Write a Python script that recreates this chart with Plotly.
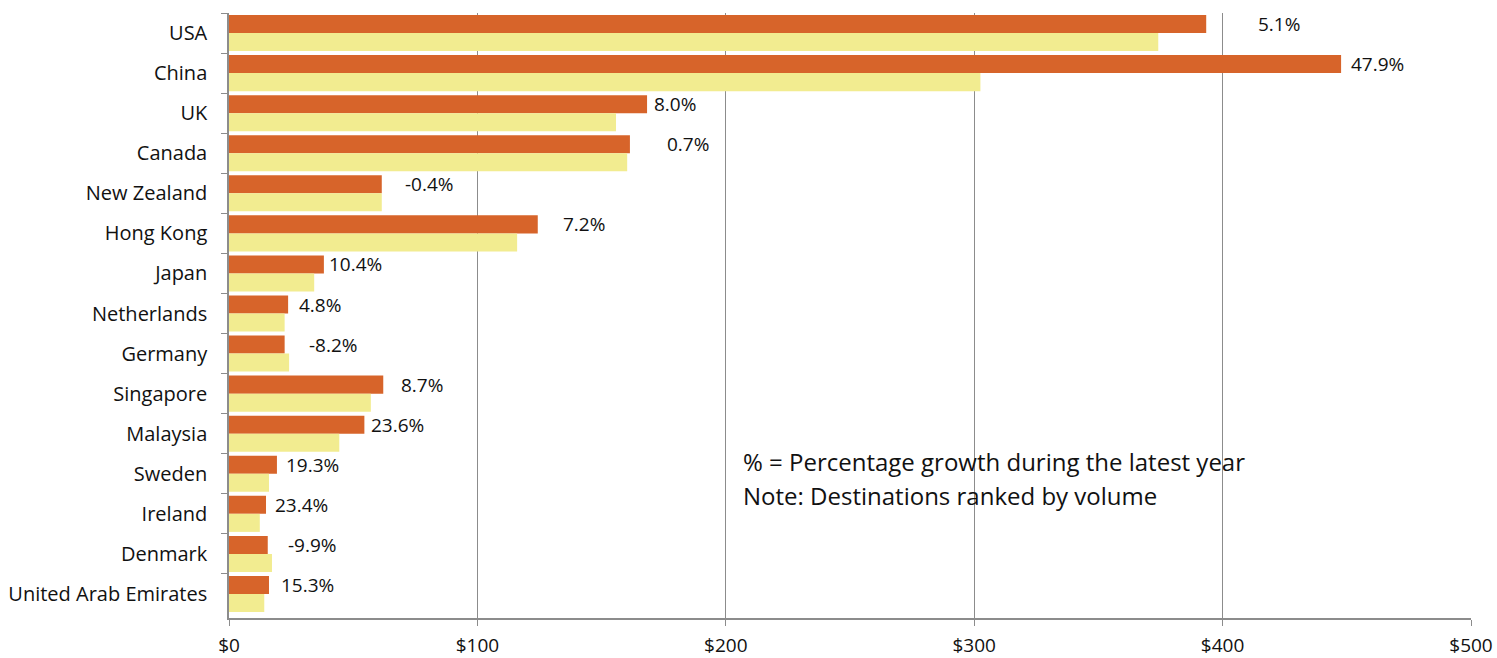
import plotly.graph_objects as go

# Destinations ranked by volume (top to bottom)
countries = [
    "USA", "China", "UK", "Canada", "New Zealand", "Hong Kong", "Japan",
    "Netherlands", "Germany", "Singapore", "Malaysia", "Sweden", "Ireland",
    "Denmark", "United Arab Emirates",
]
# Latest year value ($)
latest_year = [393.4, 447.7, 168.3, 161.4, 61.5, 124.3, 38.2, 23.8, 22.4,
               62.1, 54.5, 19.3, 14.9, 15.6, 16.1]
# Previous year value ($)
previous_year = [374.1, 302.5, 155.8, 160.3, 61.5, 116.0, 34.3, 22.4, 24.2,
                 57.1, 44.4, 16.1, 12.4, 17.3, 14.2]
# Growth during the latest year
growth_labels = ["5.1%", "47.9%", "8.0%", "0.7%", "-0.4%", "7.2%", "10.4%",
                 "4.8%", "-8.2%", "8.7%", "23.6%", "19.3%", "23.4%", "-9.9%",
                 "15.3%"]

x_ticks = [0, 100, 200, 300, 400, 500]
x_tick_text = ["$0", "$100", "$200", "$300", "$400", "$500"]

# pixel nudges for the growth labels (to the right of the latest-year bar)
label_nudge = [50, 8, 5, 35, 21, 23, 3, 9, 22, 16, 5, 7, 7, 18, 10]

FONT = "Open Sans"
ORANGE = "#D7642A"
YELLOW = "#F2EC90"
GRID = "#8C8C8C"
INK = "#111111"

fig = go.Figure()
fig.add_trace(go.Bar(
    y=countries, x=latest_year, orientation="h", name="Latest year",
    marker=dict(color=ORANGE, line=dict(width=0)),
    offsetgroup="a",
))
fig.add_trace(go.Bar(
    y=countries, x=previous_year, orientation="h", name="Previous year",
    marker=dict(color=YELLOW, line=dict(width=0)),
    offsetgroup="b",
))

for c, v, t, dx in zip(countries, latest_year, growth_labels, label_nudge):
    fig.add_annotation(
        x=v, y=c, text=t, showarrow=False, xanchor="left", yanchor="middle",
        xshift=dx, yshift=9, font=dict(family=FONT, size=19, color=INK),
    )

note_x = (741 - 229) / (1471 - 229)
fig.add_annotation(
    xref="paper", yref="paper", x=note_x, y=1 - (461 - 13) / 605,
    text="% = Percentage growth during the latest year", showarrow=False,
    xanchor="left", yanchor="middle", font=dict(family=FONT, size=24, color=INK),
)
fig.add_annotation(
    xref="paper", yref="paper", x=note_x, y=1 - (495 - 13) / 605,
    text="Note: Destinations ranked by volume", showarrow=False,
    xanchor="left", yanchor="middle", font=dict(family=FONT, size=24, color=INK),
)

fig.update_layout(
    width=1497, height=658,
    margin=dict(l=229, r=26, t=13, b=40, autoexpand=False),
    paper_bgcolor="white", plot_bgcolor="white",
    barmode="group", bargap=0.1, bargroupgap=0,
    showlegend=False,
    font=dict(family=FONT, size=17, color=INK),
)
fig.update_xaxes(
    range=[0, 500], tickvals=x_ticks, ticktext=x_tick_text,
    showgrid=True, gridcolor=GRID, gridwidth=1,
    showline=True, linecolor=GRID, linewidth=1.5,
    ticks="outside", ticklen=6, tickcolor=GRID,
    ticklabelstandoff=3,
    tickfont=dict(family=FONT, size=19, color=INK),
    zeroline=False,
)
fig.update_yaxes(
    autorange="reversed", showgrid=False,
    showline=True, linecolor=GRID, linewidth=1.5,
    ticks="outside", ticklen=6, tickcolor=GRID, tickson="boundaries",
    ticklabelstandoff=16,
    tickfont=dict(family=FONT, size=20, color=INK),
)

fig.write_html("out.html")
